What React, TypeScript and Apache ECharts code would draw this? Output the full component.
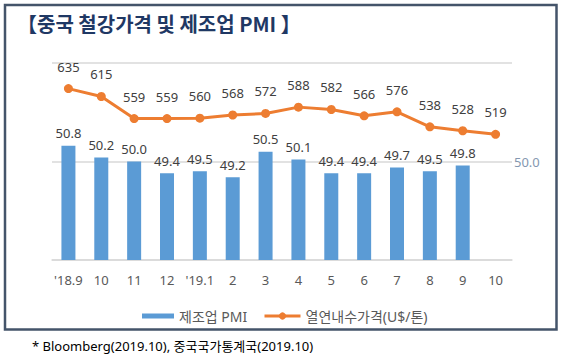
import React, { useEffect, useRef } from "react";
import * as echarts from "echarts";

const categories = ["'18.9", "10", "11", "12", "'19.1", "2", "3", "4", "5", "6", "7", "8", "9", "10"];
const pmiValues = [50.8, 50.2, 50.0, 49.4, 49.5, 49.2, 50.5, 50.1, 49.4, 49.4, 49.7, 49.5, 49.8, null];
const priceValues = [635, 615, 559, 559, 560, 568, 572, 588, 582, 566, 576, 538, 528, 519];
const titleText = "【중국 철강가격 및 제조업 PMI 】";
const footnote = "* Bloomberg(2019.10), 중국국가통계국(2019.10)";
const pmiName = "제조업 PMI";
const priceName = "열연내수가격(U$/톤)";

const FONT = "'Noto Sans', 'Noto Sans CJK KR', sans-serif";

export default function App() {
  const ref = useRef<HTMLDivElement>(null);
  useEffect(() => {
    const chart = echarts.init(ref.current!, null, { renderer: "svg" });
    chart.setOption({
      animation: false,
      backgroundColor: "#ffffff",
      textStyle: { fontFamily: FONT },
      grid: { left: 52, right: 53, top: 63, bottom: 97 },
      graphic: [
        {
          type: "rect",
          shape: { x: 5, y: 5, width: 551.5, height: 324.5 },
          style: { fill: "none", stroke: "#44546a", lineWidth: 2.5 },
          silent: true,
        },
        {
          type: "text",
          left: 17,
          top: 13,
          style: {
            text: titleText,
            font: "bold 20px 'Noto Sans CJK KR', sans-serif",
            fill: "#1f3864",
          },
        },
        {
          type: "text",
          left: 32,
          top: 339,
          style: {
            text: footnote,
            font: "13px 'Noto Sans', 'Noto Sans CJK KR', sans-serif",
            fill: "#000000",
          },
        },
      ],
      legend: [
        {
          left: 137,
          top: 304,
          itemWidth: 32,
          itemHeight: 5,
          textStyle: { color: "#595959", fontSize: 14, fontFamily: FONT },
          data: [{ name: pmiName, icon: "rect" }],
        },
        {
          left: 258,
          top: 304,
          itemWidth: 36,
          itemHeight: 9,
          textStyle: { color: "#595959", fontSize: 14, fontFamily: FONT },
          data: [{ name: priceName, lineStyle: { width: 3 } }],
        },
      ],
      xAxis: {
        type: "category",
        data: categories,
        axisLine: { lineStyle: { color: "#d9d9d9", width: 1.5 } },
        axisTick: { show: false },
        axisLabel: { color: "#595959", fontSize: 13, margin: 13, interval: 0 },
      },
      yAxis: [
        {
          type: "value",
          position: "right",
          min: 45,
          max: 55,
          interval: 5,
          axisLine: { show: false },
          axisTick: { show: false },
          splitLine: { lineStyle: { color: "#d9d9d9", width: 1.5 } },
          axisLabel: {
            margin: 2,
            color: "#8497b0",
            fontSize: 13,
            formatter: (v: number) => (v === 50 ? "50.0" : ""),
          },
        },
        {
          type: "value",
          min: 200,
          max: 700,
          interval: 250,
          show: false,
          splitLine: { show: false },
        },
      ],
      series: [
        {
          name: pmiName,
          type: "bar",
          yAxisIndex: 0,
          data: pmiValues,
          barWidth: 14,
          itemStyle: { color: "#5b9bd5" },
          label: {
            show: true,
            position: "top",
            distance: 6,
            color: "#404040",
            fontSize: 13,
            formatter: (p: any) => (p.value == null ? "" : Number(p.value).toFixed(1)),
          },
        },
        {
          name: priceName,
          type: "line",
          yAxisIndex: 1,
          data: priceValues,
          symbol: "circle",
          symbolSize: 9,
          lineStyle: { color: "#ed7d31", width: 3 },
          itemStyle: { color: "#ed7d31" },
          label: {
            show: true,
            position: "top",
            distance: 11,
            color: "#404040",
            fontSize: 13,
          },
        },
      ],
    });
    return () => chart.dispose();
  }, []);
  return (
    <div
      ref={ref}
      style={{ position: "fixed", left: 0, top: 0, width: 565, height: 357, background: "#fff" }}
    />
  );
}
